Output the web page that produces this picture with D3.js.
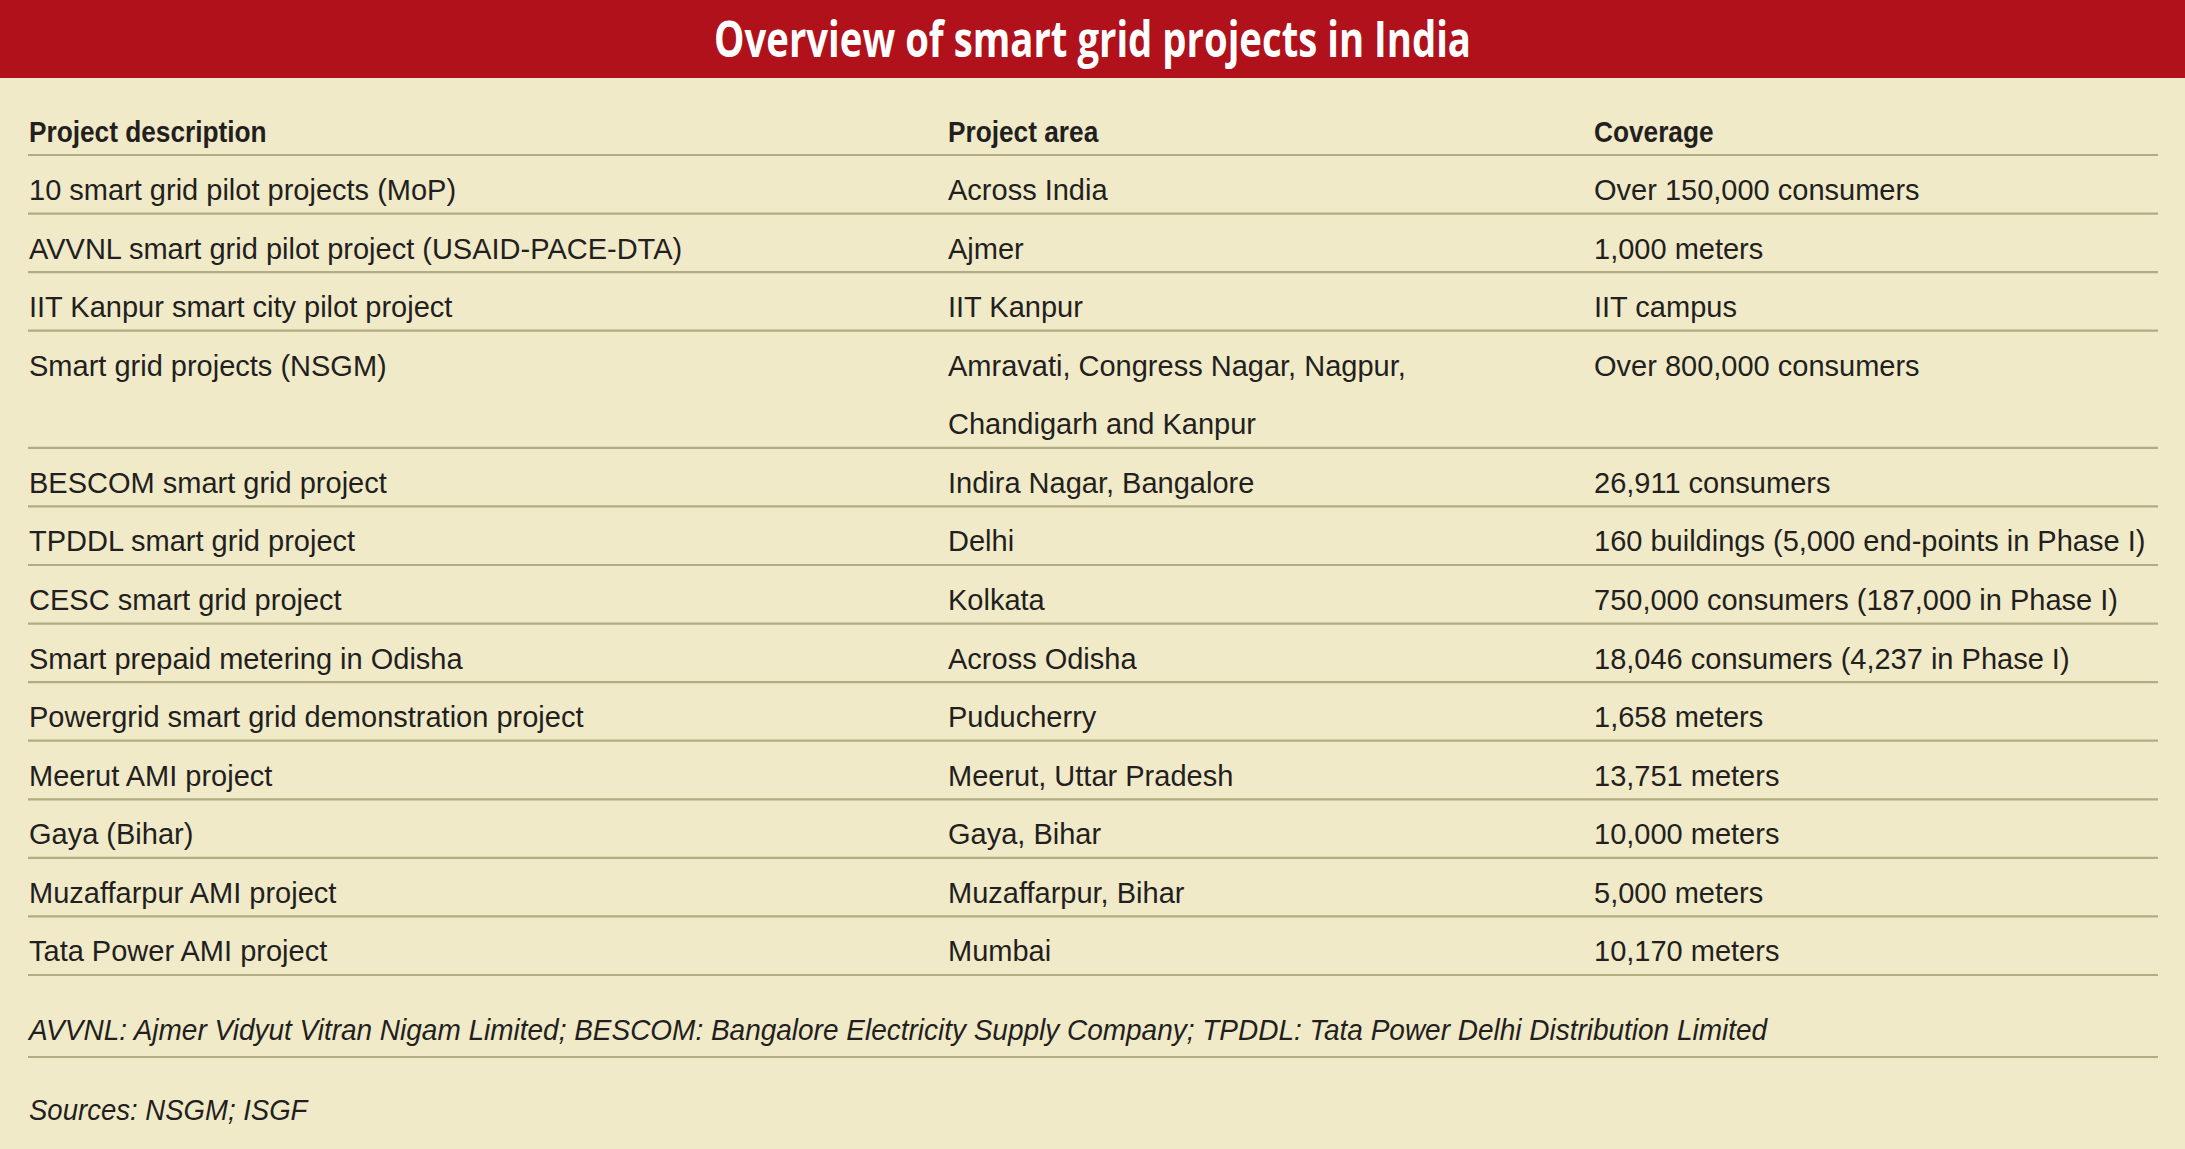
<!DOCTYPE html>
<html>
<head>
<meta charset="utf-8">
<script src="https://cdn.jsdelivr.net/npm/d3@7"></script>
<style>
  html, body { margin: 0; padding: 0; background: #F0EAC8; }
  svg { display: block; }
</style>
</head>
<body>
<svg id="chart"></svg>
<script>
// ---- Data ----
const title = "Overview of smart grid projects in India";
const headers = ["Project description", "Project area", "Coverage"];
const descriptions = [
  "10 smart grid pilot projects (MoP)",
  "AVVNL smart grid pilot project (USAID-PACE-DTA)",
  "IIT Kanpur smart city pilot project",
  "Smart grid projects (NSGM)",
  "BESCOM smart grid project",
  "TPDDL smart grid project",
  "CESC smart grid project",
  "Smart prepaid metering in Odisha",
  "Powergrid smart grid demonstration project",
  "Meerut AMI project",
  "Gaya (Bihar)",
  "Muzaffarpur AMI project",
  "Tata Power AMI project"
];
const areas = [
  "Across India",
  "Ajmer",
  "IIT Kanpur",
  "Amravati, Congress Nagar, Nagpur,\nChandigarh and Kanpur",
  "Indira Nagar, Bangalore",
  "Delhi",
  "Kolkata",
  "Across Odisha",
  "Puducherry",
  "Meerut, Uttar Pradesh",
  "Gaya, Bihar",
  "Muzaffarpur, Bihar",
  "Mumbai"
];
const coverage = [
  "Over 150,000 consumers",
  "1,000 meters",
  "IIT campus",
  "Over 800,000 consumers",
  "26,911 consumers",
  "160 buildings (5,000 end-points in Phase I)",
  "750,000 consumers (187,000 in Phase I)",
  "18,046 consumers (4,237 in Phase I)",
  "1,658 meters",
  "13,751 meters",
  "10,000 meters",
  "5,000 meters",
  "10,170 meters"
];
const footnote = "AVVNL: Ajmer Vidyut Vitran Nigam Limited; BESCOM: Bangalore Electricity Supply Company; TPDDL: Tata Power Delhi Distribution Limited";
const sources = "Sources: NSGM; ISGF";

// ---- Layout ----
const W = 2185, H = 1149;
const RED = "#B0111A", CREAM = "#F0EAC8", RULE = "#B1AC82", INK = "#231F20";
const bodyFont = "'Liberation Sans', Arial, Helvetica, sans-serif";

const svg = d3.select("#chart").attr("width", W).attr("height", H);
svg.append("rect").attr("width", W).attr("height", H).attr("fill", CREAM);

// title band
svg.append("rect").attr("x", 0).attr("y", 0).attr("width", W).attr("height", 78).attr("fill", RED);
svg.append("text")
  .attr("x", W / 2).attr("y", 57)
  .attr("text-anchor", "middle")
  .attr("fill", "#fff")
  .attr("font-family", "'Open Sans', 'Noto Sans', sans-serif")
  .attr("font-weight", 700)
  .attr("font-size", 50)
  .attr("textLength", 757)
  .attr("lengthAdjust", "spacingAndGlyphs")
  .text(title);

// column positions
const x = d3.scaleOrdinal().domain(headers).range([29, 948, 1594]);
const lineX0 = 28, lineX1 = 2158;

// rows: each row takes as many line-units as text lines
const rows = descriptions.map((d, i) => ({
  cells: [[d], areas[i].split("\n"), [coverage[i]]],
}));
let acc = 0;
rows.forEach(r => {
  r.n = d3.max(r.cells, c => c.length);
  r.start = acc;
  acc += r.n;
});
const y = d3.scaleLinear().domain([0, acc]).range([155, 975]);
const baseOff = 45;

// header
const g = svg.append("g").attr("fill", INK).attr("font-family", bodyFont);
g.selectAll("text.hdr").data(headers).join("text")
  .attr("class", "hdr")
  .attr("transform", d => `translate(${x(d)},142) scale(0.89,1)`)
  .attr("font-weight", 700)
  .attr("font-size", 29.5)
  .text(d => d);

// rules
const ruleYs = [0].concat(rows.map(r => r.start + r.n));
svg.append("g").selectAll("line").data(ruleYs).join("line")
  .attr("x1", lineX0).attr("x2", lineX1)
  .attr("y1", d => y(d)).attr("y2", d => y(d))
  .attr("stroke", RULE).attr("stroke-width", 2.2);

// cells
const cellData = [];
rows.forEach(r => {
  r.cells.forEach((lines, ci) => {
    lines.forEach((t, li) => {
      cellData.push({ t, x: x(headers[ci]), y: y(r.start + li) + baseOff });
    });
  });
});
g.selectAll("text.cell").data(cellData).join("text")
  .attr("class", "cell")
  .attr("x", d => d.x).attr("y", d => d.y)
  .attr("font-size", 29)
  .text(d => d.t);

// footnotes
g.append("text").attr("transform", "translate(29,1040) scale(0.965,1)")
  .attr("font-style", "italic").attr("font-size", 29).text(footnote);
svg.append("line").attr("x1", lineX0).attr("x2", lineX1)
  .attr("y1", 1057).attr("y2", 1057)
  .attr("stroke", RULE).attr("stroke-width", 2.2);
g.append("text").attr("transform", "translate(29,1120) scale(0.95,1)")
  .attr("font-style", "italic").attr("font-size", 29).text(sources);
</script>
</body>
</html>
